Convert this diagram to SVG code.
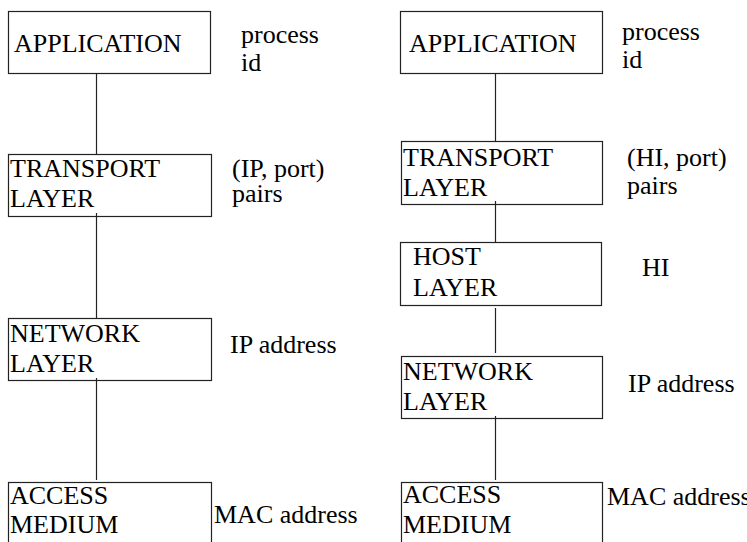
<svg xmlns="http://www.w3.org/2000/svg" width="747" height="542" viewBox="0 0 747 542">
<rect x="0" y="0" width="747" height="542" fill="#fff"/>
<g id="connectors" stroke="#222" stroke-width="1.2">
<line x1="96.5" y1="74" x2="96.5" y2="154"/>
<line x1="96.5" y1="213" x2="96.5" y2="318"/>
<line x1="96.5" y1="378" x2="96.5" y2="480"/>
<line x1="495.5" y1="74" x2="495.5" y2="141"/>
<line x1="495.5" y1="201" x2="495.5" y2="242"/>
<line x1="495.5" y1="308" x2="495.5" y2="353"/>
<line x1="495.5" y1="416" x2="495.5" y2="480"/>
</g>
<g id="l-app"><rect x="8.5" y="11.5" width="202" height="62" fill="none" stroke="#222" stroke-width="1.2"/><text font-family="'Liberation Serif', 'Times New Roman', serif" font-size="26" x="14" y="52">APPLICATION</text></g>
<g id="l-transport"><rect x="8.5" y="154.5" width="203" height="62" fill="none" stroke="#222" stroke-width="1.2"/><text font-family="'Liberation Serif', 'Times New Roman', serif" font-size="26" x="10" y="177">TRANSPORT</text><text font-family="'Liberation Serif', 'Times New Roman', serif" font-size="26" x="10" y="207">LAYER</text></g>
<g id="l-network"><rect x="8.5" y="318.5" width="203" height="62" fill="none" stroke="#222" stroke-width="1.2"/><text font-family="'Liberation Serif', 'Times New Roman', serif" font-size="26" x="10" y="342">NETWORK</text><text font-family="'Liberation Serif', 'Times New Roman', serif" font-size="26" x="10" y="372">LAYER</text></g>
<g id="l-access"><rect x="8.5" y="482.5" width="203" height="70" fill="none" stroke="#222" stroke-width="1.2"/><text font-family="'Liberation Serif', 'Times New Roman', serif" font-size="26" x="10" y="504">ACCESS</text><text font-family="'Liberation Serif', 'Times New Roman', serif" font-size="26" x="10" y="533">MEDIUM</text></g>
<g id="l-labels">
<text font-family="'Liberation Serif', 'Times New Roman', serif" font-size="26" x="241" y="43">process</text><text font-family="'Liberation Serif', 'Times New Roman', serif" font-size="26" x="241" y="71">id</text>
<text font-family="'Liberation Serif', 'Times New Roman', serif" font-size="26" x="232" y="177">(IP, port)</text><text font-family="'Liberation Serif', 'Times New Roman', serif" font-size="26" x="232" y="202">pairs</text>
<text font-family="'Liberation Serif', 'Times New Roman', serif" font-size="26" x="230" y="353">IP address</text>
<text font-family="'Liberation Serif', 'Times New Roman', serif" font-size="26" x="214" y="523">MAC address</text>
</g>
<g id="r-app"><rect x="400.5" y="11.5" width="202" height="62" fill="none" stroke="#222" stroke-width="1.2"/><text font-family="'Liberation Serif', 'Times New Roman', serif" font-size="26" x="409" y="52">APPLICATION</text></g>
<g id="r-transport"><rect x="401.5" y="141.5" width="201" height="63" fill="none" stroke="#222" stroke-width="1.2"/><text font-family="'Liberation Serif', 'Times New Roman', serif" font-size="26" x="403" y="166">TRANSPORT</text><text font-family="'Liberation Serif', 'Times New Roman', serif" font-size="26" x="403" y="196">LAYER</text></g>
<g id="r-host"><rect x="400.5" y="242.5" width="201" height="63" fill="none" stroke="#222" stroke-width="1.2"/><text font-family="'Liberation Serif', 'Times New Roman', serif" font-size="26" x="413" y="265">HOST</text><text font-family="'Liberation Serif', 'Times New Roman', serif" font-size="26" x="413" y="296">LAYER</text></g>
<g id="r-network"><rect x="401.5" y="356.5" width="201" height="62" fill="none" stroke="#222" stroke-width="1.2"/><text font-family="'Liberation Serif', 'Times New Roman', serif" font-size="26" x="403" y="380">NETWORK</text><text font-family="'Liberation Serif', 'Times New Roman', serif" font-size="26" x="403" y="410">LAYER</text></g>
<g id="r-access"><rect x="401.5" y="482.5" width="201" height="70" fill="none" stroke="#222" stroke-width="1.2"/><text font-family="'Liberation Serif', 'Times New Roman', serif" font-size="26" x="403" y="503">ACCESS</text><text font-family="'Liberation Serif', 'Times New Roman', serif" font-size="26" x="403" y="533">MEDIUM</text></g>
<g id="r-labels">
<text font-family="'Liberation Serif', 'Times New Roman', serif" font-size="26" x="622" y="40">process</text><text font-family="'Liberation Serif', 'Times New Roman', serif" font-size="26" x="622" y="68">id</text>
<text font-family="'Liberation Serif', 'Times New Roman', serif" font-size="26" x="627" y="166">(HI, port)</text><text font-family="'Liberation Serif', 'Times New Roman', serif" font-size="26" x="627" y="194">pairs</text>
<text font-family="'Liberation Serif', 'Times New Roman', serif" font-size="26" x="642" y="276">HI</text>
<text font-family="'Liberation Serif', 'Times New Roman', serif" font-size="26" x="628" y="392">IP address</text>
<text font-family="'Liberation Serif', 'Times New Roman', serif" font-size="26" x="607" y="505">MAC address</text>
</g>
</svg>
